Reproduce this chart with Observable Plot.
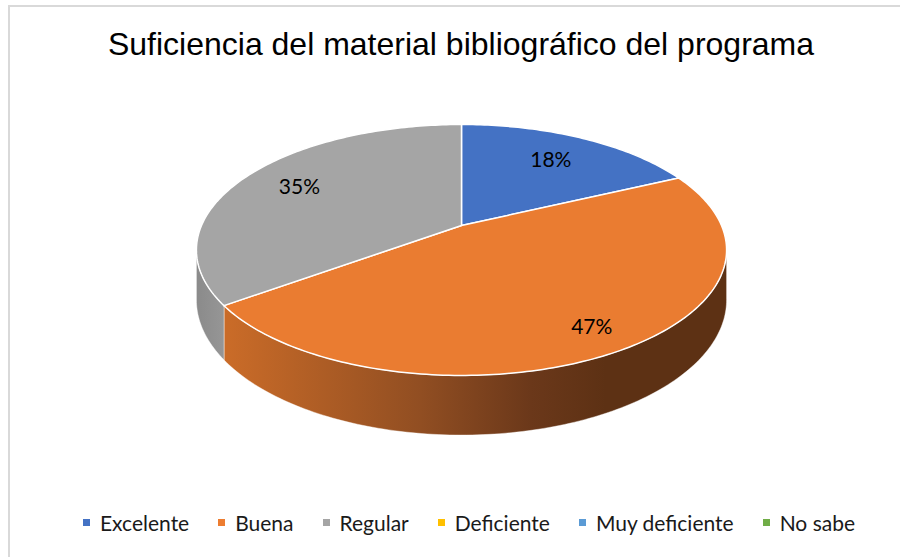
<!DOCTYPE html>
<html>
<head>
<meta charset="utf-8">
<script src="https://cdn.jsdelivr.net/npm/d3@7"></script>
<script src="https://cdn.jsdelivr.net/npm/@observablehq/plot@0.6"></script>
<style>
  html, body { margin: 0; padding: 0; background: #fff; }
  #frame { position: absolute; left: 8px; top: 5px; width: 900px; height: 560px;
           border-left: 2px solid #D9D9D9; border-top: 2px solid #D9D9D9; box-sizing: border-box; overflow: hidden; }
  #title { height: 83px; box-sizing: border-box; padding-top: 19px; padding-left: 4px; font-family: "Liberation Sans", Arial, sans-serif;
           font-size: 32px; color: #000; text-align: center; white-space: nowrap; }
  #legend { display: flex; justify-content: center; align-items: center; gap: 29px; margin-top: 20px;
            font-family: Lato, "Open Sans", sans-serif; font-size: 21px; color: #1a1a1a; padding-left: 20px; }
  .item { display: flex; align-items: center; gap: 10px; }
  .sw { width: 7px; height: 7px; display: inline-block; }
</style>
</head>
<body>
<div id="frame">
  <div id="title">Suficiencia del material bibliográfico del programa</div>
  <div id="chart"></div>
  <div id="legend"></div>
</div>
<script>
// ---- data ----
const categories = ["Excelente", "Buena", "Regular", "Deficiente", "Muy deficiente", "No sabe"];
const values = [18, 47, 35, 0, 0, 0];
const colors = ["#4472C4", "#ED7D31", "#A5A5A5", "#FFC000", "#5B9BD5", "#70AD47"];
const pctLabels = ["18%", "47%", "35%", "", "", ""];

// ---- geometry (perspective 3D pie) ----
const W = 890, H = 400;
const cx = 451, cy = 135;
const A = 260, B = 120.7, k = 0.195, depth = 48;
function proj(theta, r, drop) {
  const u = Math.sin(theta) * r, v = -Math.cos(theta) * r;
  const w = 1 / (1 - k * v);
  return {x: cx + A * u * w, y: cy + (B * v + drop) * w};
}
const rad = d => d * Math.PI / 180;
const total = d3.sum(values);
let acc = 0;
const slices = values.map((v, i) => {
  const a0 = acc / total * 2 * Math.PI; acc += v;
  const a1 = acc / total * 2 * Math.PI;
  return {i, name: categories[i], value: v, a0, a1, color: colors[i], label: pctLabels[i]};
}).filter(s => s.value > 0);

// silhouette angle (max x on top rim)
let sil = Math.PI / 2, best = -Infinity;
for (let t = 0; t <= Math.PI; t += 0.002) { const p = proj(t, 1, 0); if (p.x > best) { best = p.x; sil = t; } }
const visA = sil, visB = 2 * Math.PI - sil;

function arcPts(a0, a1, drop) {
  const n = Math.max(2, Math.ceil((a1 - a0) / rad(1)));
  return d3.range(n + 1).map(j => proj(a0 + (a1 - a0) * j / n, 1, drop));
}
const topPolys = slices.map(s => [proj(0, 0, 0), ...arcPts(s.a0, s.a1, 0)]);
const sidePolys = slices.map(s => {
  const a0 = Math.max(s.a0, visA), a1 = Math.min(s.a1, visB);
  if (a1 <= a0) return null;
  return {s, pts: [...arcPts(a0, a1, 0), ...arcPts(a0, a1, depth).reverse()]};
}).filter(Boolean);

const topFill = {"#4472C4": "#4472C4", "#ED7D31": "#EA7C31", "#A5A5A5": "#A5A5A5"};
const sideFill = c => c === "#ED7D31" ? "url(#gOrange)" : c === "#A5A5A5" ? "url(#gGray)" : "url(#gBlue)";

const labelData = slices.map(s => {
  const mid = (s.a0 + s.a1) / 2;
  const r = 0.78 + 0.075 * (-Math.cos(mid));
  const p = proj(mid, r, 0);
  return {x: p.x, y: p.y, text: s.label};
});

const marks = [];
for (const sp of sidePolys) {
  marks.push(Plot.line(sp.pts, {x: "x", y: "y", curve: "linear-closed", fill: sideFill(sp.s.color), stroke: "#ffffff", strokeWidth: 0.6, strokeOpacity: 0.7}));
}
slices.forEach((s, i) => {
  marks.push(Plot.line(topPolys[i], {x: "x", y: "y", curve: "linear-closed", fill: topFill[s.color] || s.color, stroke: "#ffffff", strokeWidth: 1.5}));
});
marks.push(Plot.text(labelData, {x: "x", y: "y", text: "text", fontSize: 21, fontFamily: "Lato, 'Open Sans', sans-serif", fill: "#000000"}));

const svg = Plot.plot({
  width: W, height: H, margin: 0,
  x: {type: "linear", domain: [0, W], range: [0, W], axis: null},
  y: {type: "linear", domain: [0, H], range: [0, H], axis: null},
  style: {background: "transparent", overflow: "visible"},
  marks
});

// gradients for the pie side
const defs = d3.select(svg).insert("defs", ":first-child");
function grad(id, stops, x1, x2) {
  const g = defs.append("linearGradient").attr("id", id).attr("gradientUnits", "userSpaceOnUse")
    .attr("x1", x1).attr("x2", x2).attr("y1", 0).attr("y2", 0);
  stops.forEach(([o, c]) => g.append("stop").attr("offset", o).attr("stop-color", c));
}
grad("gOrange", [[0, "#C96B28"], [0.38, "#914E22"], [0.6, "#6B381A"], [0.75, "#5D3114"], [1, "#5D3114"]], cx - 232, cx + 270);
grad("gGray", [[0, "#8A8A8A"], [1, "#9A9A9A"]], cx - 266, cx - 228);
grad("gBlue", [[0, "#335AA0"], [1, "#2A4A85"]], cx - 266, cx + 266);

document.getElementById("chart").appendChild(svg);

// legend
const leg = d3.select("#legend");
categories.forEach((c, i) => {
  const it = leg.append("div").attr("class", "item");
  it.append("span").attr("class", "sw").style("background", colors[i]);
  it.append("span").text(c);
});
</script>
</body>
</html>
